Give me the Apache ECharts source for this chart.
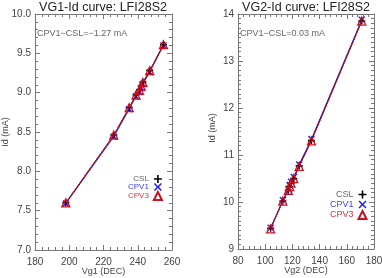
<!DOCTYPE html>
<html><head><meta charset="utf-8">
<script src="https://cdn.jsdelivr.net/npm/echarts@6/dist/echarts.min.js"></script>
<style>html,body{margin:0;padding:0;background:#fff}#c{width:382px;height:278px}</style>
</head><body><div id="c"></div>
<script>
// Left panel: Vg1 vs Id
const vg1 = [198, 226, 235, 239, 241, 242, 243, 247, 255];
const idCSL1 = [7.60, 8.46, 8.81, 8.97, 9.03, 9.08, 9.13, 9.28, 9.61];
const idCPV1_1 = [7.59, 8.44, 8.79, 8.95, 9.01, 9.06, 9.11, 9.26, 9.60];
const idCPV3_1 = [7.60, 8.46, 8.81, 8.97, 9.03, 9.08, 9.13, 9.28, 9.61];
// Right panel: Vg2 vs Id
const vg2 = [104, 113, 117, 118, 119, 121, 125, 134, 171];
const idCSL2 = [9.44, 10.02, 10.25, 10.33, 10.40, 10.50, 10.77, 11.31, 13.85];
const idCPV1_2 = [9.45, 10.04, 10.27, 10.36, 10.43, 10.53, 10.80, 11.34, 13.88];
const idCPV3_2 = [9.43, 10.02, 10.25, 10.33, 10.40, 10.50, 10.76, 11.30, 13.85];
const titles = ['VG1-Id curve: LFI28S2', 'VG2-Id curve: LFI28S2'];
const notes = ['CPV1\u2212CSL=\u22121.27 mA', 'CPV1\u2212CSL=0.03 mA'];
const xNames = ['Vg1 (DEC)', 'Vg2 (DEC)'];
const yName = 'Id (mA)';

const FONT = 'Liberation Sans';
const plusPath = 'path://M4,0H6V4H10V6H6V10H4V6H0V4H4Z';
const crossPath = 'path://M1.4,0L5,3.6L8.6,0L10,1.4L6.4,5L10,8.6L8.6,10L5,6.4L1.4,10L0,8.6L3.6,5L0,1.4Z';
const frame = '#777';

function pairs(xs, ys){ return xs.map((x,i)=>[x, ys[i]]); }

const grids = [
  {left:35, top:14, width:137, height:236, outerBoundsMode:'none', containLabel:false},
  {left:238, top:14, width:136, height:235, outerBoundsMode:'none', containLabel:false}
];
const xr = [{min:180,max:260,interval:20}, {min:80,max:180,interval:20}];
const yr = [{min:7,max:10,interval:0.5,minor:5,fmt:v=>v.toFixed(1)}, {min:9,max:14,interval:1,minor:10,fmt:v=>String(v)}];

const xAxis = [], yAxis = [];
for (let g=0; g<2; g++){
  xAxis.push({gridIndex:g, type:'value', min:xr[g].min, max:xr[g].max, interval:xr[g].interval,
    name:xNames[g], nameLocation:'middle', nameGap:17, nameMoveOverlap:false, nameTextStyle:{fontFamily:FONT, fontSize:9, color:'#444'},
    axisLine:{show:true, onZero:false, lineStyle:{color:frame}}, axisTick:{inside:true, length:5, lineStyle:{color:frame}},
    minorTick:{show:true, splitNumber:5, length:3, lineStyle:{color:frame}},
    axisLabel:{fontFamily:FONT, fontSize:10, color:'#444', margin:7, showMinLabel:true, showMaxLabel:true, hideOverlap:false}, splitLine:{show:false}});
  xAxis.push({gridIndex:g, type:'value', position:'top', min:xr[g].min, max:xr[g].max, interval:xr[g].interval,
    axisLine:{show:true, onZero:false, lineStyle:{color:frame}}, axisTick:{inside:true, length:5, lineStyle:{color:frame}},
    minorTick:{show:true, splitNumber:5, length:3, lineStyle:{color:frame}},
    axisLabel:{show:false}, splitLine:{show:false}});
  yAxis.push({gridIndex:g, type:'value', min:yr[g].min, max:yr[g].max, interval:yr[g].interval,
    axisLine:{show:true, onZero:false, lineStyle:{color:frame}}, axisTick:{inside:true, length:5, lineStyle:{color:frame}},
    minorTick:{show:true, splitNumber:yr[g].minor, length:3, lineStyle:{color:frame}},
    axisLabel:{fontFamily:FONT, fontSize:10, color:'#444', margin:4, formatter:yr[g].fmt, showMinLabel:true, showMaxLabel:true, hideOverlap:false}, splitLine:{show:false}});
  yAxis.push({gridIndex:g, type:'value', position:'right', min:yr[g].min, max:yr[g].max, interval:yr[g].interval,
    axisLine:{show:true, onZero:false, lineStyle:{color:frame}}, axisTick:{inside:true, length:5, lineStyle:{color:frame}},
    minorTick:{show:true, splitNumber:yr[g].minor, length:3, lineStyle:{color:frame}},
    axisLabel:{show:false}, splitLine:{show:false}});
}

function mk(name, g, data, color, symbol, size, extra){
  return Object.assign({name, type:'line', xAxisIndex:g*2, yAxisIndex:g*2, data,
    symbol, symbolSize:size, lineStyle:{color, width:1}, itemStyle:{color}, animation:false,
    emphasis:{disabled:true}}, extra||{});
}
const series = [];
const sets = [[vg1, idCSL1, idCPV1_1, idCPV3_1],[vg2, idCSL2, idCPV1_2, idCPV3_2]];
for (let g=0; g<2; g++){
  const [xs, a, b, c] = sets[g];
  series.push(mk('CSL', g, pairs(xs,a), '#000', plusPath, 7, {z:4}));
  series.push(mk('CPV1', g, pairs(xs,b), '#2020ff', crossPath, 7, {z:3}));
  series.push(mk('CPV3', g, pairs(xs,c), '#cc1020', 'triangle', 8,
    {z:5, itemStyle:{color:'rgba(0,0,0,0)', borderColor:'#cc1020', borderWidth:1.3}}));
}

function legendItems(){
  return [
    {name:'CSL', icon:plusPath, textStyle:{color:'#666'}},
    {name:'CPV1', icon:crossPath, textStyle:{color:'#4040ff'}},
    {name:'CPV3', icon:'triangle', textStyle:{color:'#e03040'}}
  ];
}
const legend = [
  {left:123, top:170, orient:'vertical', align:'right', itemWidth:8, itemHeight:8, itemGap:0,
   selectedMode:false, data:legendItems(), textStyle:{fontFamily:FONT, fontSize:8, width:24}},
  {left:325, top:185, orient:'vertical', align:'right', itemWidth:8, itemHeight:8, itemGap:1,
   selectedMode:false, data:legendItems(), textStyle:{fontFamily:FONT, fontSize:9, width:26}}
];

const title = [
  {text:titles[0], left:103, top:1, padding:0, textAlign:'center', textStyle:{fontFamily:FONT, fontSize:12.5, fontWeight:'normal', color:'#222'}},
  {text:titles[1], left:306, top:1, padding:0, textAlign:'center', textStyle:{fontFamily:FONT, fontSize:12.5, fontWeight:'normal', color:'#222'}}
];

const graphic = [
  {type:'text', left:37, top:29, style:{text:notes[0], fontFamily:FONT, fontSize:9, fill:'#666'}},
  {type:'text', left:240, top:29, style:{text:notes[1], fontFamily:FONT, fontSize:9, fill:'#666'}},
  {type:'text', x:6, y:132, rotation:Math.PI/2, style:{text:yName, fontFamily:FONT, fontSize:9, fill:'#444', align:'center', verticalAlign:'middle'}},
  {type:'text', x:213, y:128, rotation:Math.PI/2, style:{text:yName, fontFamily:FONT, fontSize:9, fill:'#444', align:'center', verticalAlign:'middle'}}
];

const chart = echarts.init(document.getElementById('c'), null, {renderer:'canvas'});
chart.setOption({animation:false, grid:grids, xAxis, yAxis, series, legend, title, graphic});
</script></body></html>
